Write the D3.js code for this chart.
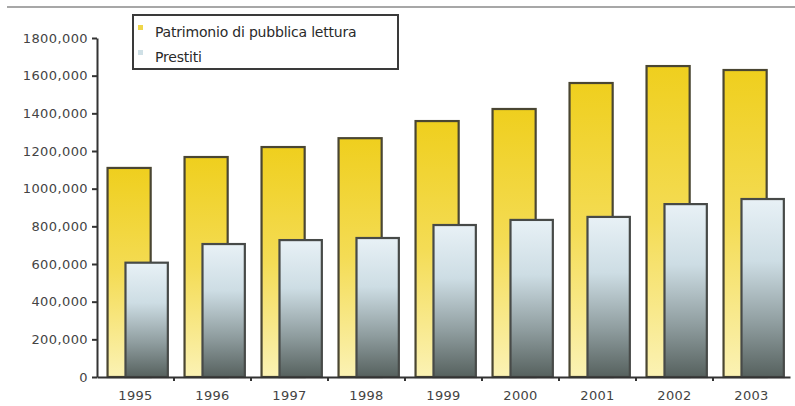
<!DOCTYPE html>
<html>
<head>
<meta charset="utf-8">
<script src="https://cdn.jsdelivr.net/npm/d3@7/dist/d3.min.js"></script>
<style>
  html, body { margin: 0; padding: 0; background: #fff; }
  svg { display: block; font-family: "DejaVu Sans", Verdana, sans-serif; }
</style>
</head>
<body>
<svg id="chart" width="795" height="406"></svg>
<script>
// Biblioteche: patrimonio e prestiti per anno
const years = ["1995","1996","1997","1998","1999","2000","2001","2002","2003"];
const patrimonio = [1110000, 1168000, 1221000, 1268000, 1359000, 1423000, 1561000, 1651000, 1630000];
const prestiti = [607000, 706000, 727000, 738000, 807000, 834000, 850000, 918000, 945000];
const seriesNames = ["Patrimonio di pubblica lettura", "Prestiti"];
const yTicks = [0, 200000, 400000, 600000, 800000, 1000000, 1200000, 1400000, 1600000, 1800000];

const svg = d3.select("#chart");

const plot = { left: 97, right: 790, top: 38, bottom: 377 };

const x = d3.scaleBand().domain(years).range([plot.left, plot.right]).padding(0);
const y = d3.scaleLinear().domain([0, 1800000]).range([plot.bottom, plot.top]);
// position of each series inside its year band (fractions of the band)
const inner = d3.scaleLinear().domain([0, 1]).range([0, x.bandwidth()]);

const defs = svg.append("defs");
const gY = defs.append("linearGradient").attr("id", "gradYellow")
  .attr("x1", 0).attr("y1", 0).attr("x2", 0).attr("y2", 1);
gY.append("stop").attr("offset", "0%").attr("stop-color", "#efcf1e");
gY.append("stop").attr("offset", "50%").attr("stop-color", "#f4dc55");
gY.append("stop").attr("offset", "100%").attr("stop-color", "#fbf2b4");

const gG = defs.append("linearGradient").attr("id", "gradGrey")
  .attr("x1", 0).attr("y1", 0).attr("x2", 0).attr("y2", 1);
gG.append("stop").attr("offset", "0%").attr("stop-color", "#e8f1f6");
gG.append("stop").attr("offset", "35%").attr("stop-color", "#cddde4");
gG.append("stop").attr("offset", "70%").attr("stop-color", "#8f9d9f");
gG.append("stop").attr("offset", "100%").attr("stop-color", "#56615e");

// top rule
svg.append("line")
  .attr("x1", 7).attr("x2", 795).attr("y1", 7).attr("y2", 7)
  .attr("stroke", "#8a8a8a").attr("stroke-width", 1.5);

// Patrimonio bars (behind)
svg.append("g").selectAll("rect")
  .data(years.map((yr, i) => ({ yr, v: patrimonio[i] })))
  .join("rect")
  .attr("x", d => x(d.yr) + inner(0.137))
  .attr("width", inner(0.56))
  .attr("y", d => y(d.v))
  .attr("height", d => y(0) - y(d.v))
  .attr("fill", "url(#gradYellow)")
  .attr("stroke", "#4a4632").attr("stroke-width", 2.2);

// Prestiti bars (front)
svg.append("g").selectAll("rect")
  .data(years.map((yr, i) => ({ yr, v: prestiti[i] })))
  .join("rect")
  .attr("x", d => x(d.yr) + inner(0.37))
  .attr("width", inner(0.55))
  .attr("y", d => y(d.v))
  .attr("height", d => y(0) - y(d.v))
  .attr("fill", "url(#gradGrey)")
  .attr("stroke", "#474a48").attr("stroke-width", 2.2);

// y axis: labels like "1800,000"
const fmtY = d => d === 0 ? "0" : `${Math.round(d / 1000)},000`;
const yAxis = d3.axisLeft(y).tickValues(yTicks)
  .tickFormat(fmtY)
  .tickSize(5).tickSizeOuter(0).tickPadding(4);
const gy = svg.append("g").attr("transform", `translate(${plot.left},0)`).call(yAxis);
gy.select(".domain").attr("stroke", "#333").attr("stroke-width", 2);
gy.selectAll(".tick line").attr("stroke", "#333").attr("stroke-width", 2);
gy.selectAll(".tick text").attr("font-size", 13).attr("fill", "#444")
  .attr("letter-spacing", "0.4px")
  .attr("font-family", "'DejaVu Sans', sans-serif");

// x axis
const xAxis = d3.axisBottom(x).tickSize(0).tickSizeOuter(0).tickPadding(14);
const gx = svg.append("g").attr("transform", `translate(0,${plot.bottom})`).call(xAxis);
gx.select(".domain").attr("stroke", "#333").attr("stroke-width", 2);
gx.selectAll(".tick text").attr("font-size", 13).attr("fill", "#444")
  .attr("letter-spacing", "0.3px")
  .attr("font-family", "'DejaVu Sans', sans-serif");
// boundary tick marks between years
gx.append("g").selectAll("line")
  .data(years.slice(1))
  .join("line")
  .attr("x1", d => x(d)).attr("x2", d => x(d))
  .attr("y1", 0).attr("y2", 4)
  .attr("stroke", "#333").attr("stroke-width", 2);

// legend
const legend = svg.append("g").attr("transform", "translate(133,15)");
legend.append("rect")
  .attr("x", 0).attr("y", 0).attr("width", 265).attr("height", 54)
  .attr("fill", "#fff").attr("stroke", "#3a3a3a").attr("stroke-width", 2);
const swatchColors = ["#efd64a", "#cfe0e6"];
seriesNames.forEach((name, i) => {
  const row = legend.append("g").attr("transform", `translate(0,${10 + i * 25})`);
  row.append("rect").attr("x", 5).attr("y", 0).attr("width", 5).attr("height", 5)
    .attr("fill", swatchColors[i]);
  row.append("text").attr("x", 22).attr("y", 12)
    .attr("font-size", 14).attr("fill", "#2a2a2a")
    .attr("letter-spacing", "-0.2px")
    .text(name);
});
</script>
</body>
</html>
